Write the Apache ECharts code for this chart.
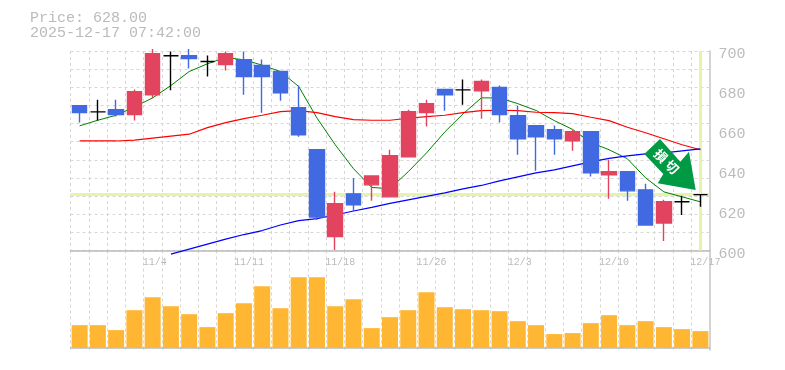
<!DOCTYPE html>
<html>
<head>
<meta charset="utf-8">
<style>
html, body { margin: 0; padding: 0; background: #fff; }
#chart { width: 785px; height: 370px; }
</style>
<script src="https://cdn.jsdelivr.net/npm/echarts@6/dist/echarts.min.js"></script>
</head>
<body>
<div id="chart"></div>
<script>
var categories = ['10/28','10/29','10/30','10/31','11/4','11/5','11/6','11/7','11/10','11/10b','11/11','11/12','11/13','11/14','11/17','11/18','11/19','11/20','11/21','11/26','11/27','11/28','12/1','12/2','12/3','12/4','12/5','12/8','12/9','12/10','12/11','12/12','12/15','12/16','12/17']
var tickLabels = { 4: '11/4', 9: '11/11', 14: '11/18', 19: '11/26', 24: '12/3', 29: '12/10', 34: '12/17' }
// open, close, low, high
var candles = [
  [672.6, 669.1, 664.2, 672.6],
  [669.5, 669.5, 665.2, 675.6],
  [670.6, 668.1, 667.2, 675.6],
  [668.1, 679.6, 665.2, 680.7],
  [678.1, 698.7, 676.3, 701],
  [697.6, 697.6, 680.3, 699.7],
  [697.7, 696.2, 691.2, 701],
  [694.7, 694.7, 687.2, 697.7],
  [693.2, 698.7, 690.2, 699.7],
  [695.7, 687.2, 678.1, 699.7],
  [692.7, 687.2, 669.1, 695.7],
  [689.7, 679.1, 675.1, 689.7],
  [671.6, 658, 657, 682.7],
  [650.5, 616.8, 615.3, 650.5],
  [607, 623.4, 600.3, 629.4],
  [628.4, 622.9, 619.8, 636.4],
  [632.9, 637.4, 624.9, 637.4],
  [626.9, 647.5, 626.9, 650.5],
  [647, 669.6, 647, 670.6],
  [669.1, 673.6, 662.1, 675.6],
  [680.7, 678.1, 670.1, 680.7],
  [680.5, 680.5, 673.1, 685.7],
  [680.1, 684.7, 666.1, 685.7],
  [681.7, 668.1, 664.1, 682.7],
  [667.6, 656, 648, 672.6],
  [662.6, 657, 640, 662.6],
  [660.6, 656, 648, 662.6],
  [655, 659.5, 650, 660.6],
  [659.5, 639, 637.1, 659.5],
  [638, 639.5, 625.9, 645.5],
  [639.5, 629.9, 624.9, 639.5],
  [630.4, 612.8, 612.8, 633.4],
  [613.8, 624.4, 604.8, 625.4],
  [624.4, 624.4, 617.8, 627.4],
  [628, 628, 621.9, 628]
]
var ma5 = [662.5, 665.3, 667.8, 672, 676.5, 682.7, 689.7, 693.6, 696.7, 695.6, 692.9, 689.7, 682.2, 666.4, 653, 641, 631.6, 631, 639.5, 648.9, 659.4, 668.5, 676.5, 676.5, 673.6, 670.2, 665.1, 660.7, 654.1, 650.5, 646, 636.4, 629.4, 626.9, 624.4]
var ma25 = [654.9, 654.9, 654.9, 655.3, 656.3, 657.3, 658.3, 661.6, 664.1, 666.1, 667.8, 669.6, 670.1, 669.1, 667.1, 665.6, 665.3, 665.3, 666.3, 667.1, 667.8, 669.1, 670.1, 670.3, 670.1, 669.3, 669.1, 668.6, 666.8, 665.1, 661.8, 659, 656, 653, 650.5]
var ma75 = [null, null, null, null, null, 598.2, 600.7, 603.2, 605.7, 608, 610, 612.8, 615, 616, 617.8, 619.8, 621.6, 623.6, 625.4, 627.1, 628.9, 630.9, 632.6, 634.9, 636.9, 638.9, 640.4, 642.4, 644.4, 646.2, 647.4, 648.4, 648.9, 649.9, 650.9]
var volumes = [23, 23, 18, 38, 51, 42, 34, 21, 35, 45, 62, 40, 71, 71, 42, 49, 20, 31, 38, 56, 41, 39, 38, 37, 27, 23, 14, 15, 25, 33, 23, 27, 21, 19, 17]
var priceTicks = [600, 620, 640, 660, 680, 700]
var lastPrice = 628

const myChart = echarts.init(document.getElementById('chart'))
const font = 'Liberation Mono'
const gridLine = { show: true, interval: 0, lineStyle: { color: '#d6d6d6', type: [3, 3], width: 1 } }
const lineSeries = function (name, data, color, width) {
  return {
    name: name,
    type: 'line',
    data: data,
    clip: false,
    showSymbol: false,
    silent: true,
    lineStyle: { color: color, width: width },
    z: 3
  }
}
const option = {
  animation: false,
  backgroundColor: '#fff',
  grid: [
    { left: 70.5, top: 51, width: 639, height: 199.5 },
    { left: 70.5, top: 250.5, width: 639, height: 99.5 }
  ],
  title: {
    text: 'Price: 628.00\n2025-12-17 07:42:00',
    left: 30,
    top: 11,
    padding: 0,
    textStyle: { fontFamily: font, fontSize: 15, fontWeight: 'normal', color: '#bbbbbb', lineHeight: 15 }
  },
  xAxis: [
    {
      type: 'category',
      gridIndex: 0,
      data: categories,
      axisTick: { show: false },
      axisLine: { show: true, lineStyle: { color: '#bbbbbb', width: 1.5 } },
      splitLine: gridLine,
      axisLabel: {
        interval: 0,
        align: 'left',
        margin: 7,
        padding: [0, 0, 0, -10],
        fontFamily: font,
        fontSize: 10,
        color: '#bbbbbb',
        formatter: function (value, i) { return tickLabels[i] || '' }
      },
      z: 1
    },
    {
      type: 'category',
      gridIndex: 1,
      data: categories,
      axisTick: { show: false },
      axisLabel: { show: false },
      axisLine: { show: true, lineStyle: { color: '#bbbbbb', width: 1.5 } },
      splitLine: gridLine,
      z: 1
    }
  ],
  yAxis: [
    {
      type: 'value',
      gridIndex: 0,
      position: 'right',
      min: 600,
      max: 700,
      interval: 20,
      axisTick: { show: false },
      axisLine: { show: true, lineStyle: { color: '#c4c4c4', width: 1.5 } },
      splitLine: { show: false },
      axisLabel: {
        margin: 9,
        verticalAlign: 'top',
        lineHeight: 7,
        fontFamily: font,
        fontSize: 15,
        color: '#bbbbbb',
        showMinLabel: true,
        showMaxLabel: true,
        customValues: priceTicks
      }
    },
    {
      // only here for the dashed horizontal rules, they don't follow the price ticks
      type: 'value',
      gridIndex: 0,
      min: 0,
      max: 11,
      interval: 1,
      axisTick: { show: false },
      axisLine: { show: false },
      axisLabel: { show: false },
      splitLine: { show: true, lineStyle: { color: '#d6d6d6', type: [3, 3], width: 1 } }
    },
    {
      type: 'value',
      gridIndex: 1,
      position: 'right',
      min: -2,
      max: 98,
      axisTick: { show: false },
      axisLabel: { show: false },
      axisLine: { show: true, lineStyle: { color: '#c4c4c4', width: 1.5 } },
      splitLine: { show: false }
    }
  ],
  series: [
    {
      name: 'last',
      type: 'line',
      data: [],
      silent: true,
      markLine: {
        silent: true,
        animation: false,
        z: 2,
        symbol: 'none',
        label: { show: false },
        lineStyle: { color: '#e4f5a8', width: 3, type: 'solid' },
        data: [{ yAxis: lastPrice }, { xAxis: categories.length - 1 }]
      },
      z: 2
    },
    lineSeries('ma5', ma5, '#008000', 1),
    lineSeries('ma25', ma25, '#ff0000', 1.2),
    lineSeries('ma75', ma75, '#0000ff', 1.2),
    {
      name: 'price',
      type: 'candlestick',
      data: candles,
      barWidth: 15,
      itemStyle: {
        color: '#e2445f',
        color0: '#4169e1',
        borderColor: '#e2445f',
        borderColor0: '#4169e1',
        borderColorDoji: '#000000',
        borderWidth: 1.4
      },
      z: 4
    },
    {
      name: 'volume',
      type: 'bar',
      xAxisIndex: 1,
      yAxisIndex: 2,
      data: volumes,
      barWidth: 16,
      itemStyle: { color: '#ffb733' },
      z: 3
    }
  ],
  graphic: [
    {
      type: 'polygon',
      z: 10,
      shape: {
        points: [[660, 139], [680.3, 161.7], [689, 151.7], [695.7, 190], [657.7, 183.3], [663.3, 174], [644.3, 154]]
      },
      style: { fill: '#009944' }
    },
    {
      type: 'text',
      z: 11,
      x: 666.5,
      y: 161.5,
      rotation: -Math.PI / 4,
      style: {
        text: '損 切',
        fill: '#ffffff',
        font: 'bold 13px "Noto Sans CJK JP"',
        align: 'center',
        verticalAlign: 'middle'
      }
    }
  ]
}
myChart.setOption(option)
</script>
</body>
</html>
